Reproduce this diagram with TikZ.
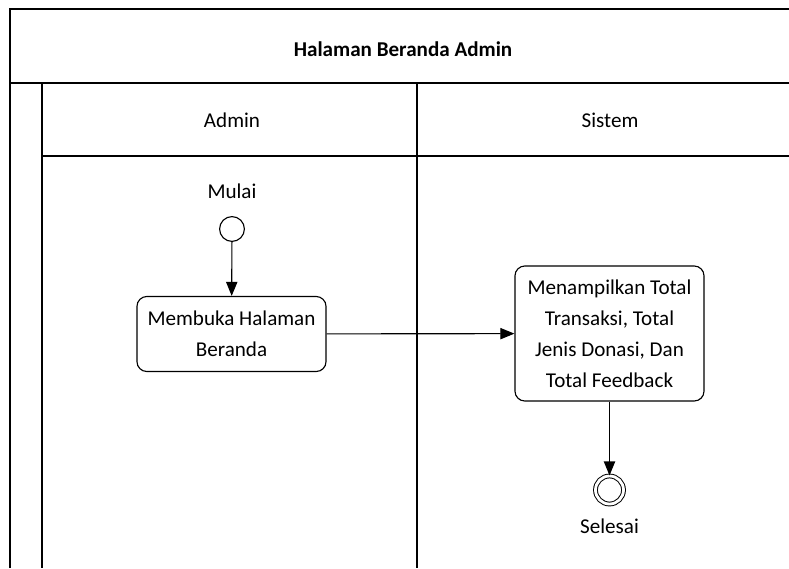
\documentclass[tikz,border=0pt]{standalone}
\usepackage{fontspec}
\setmainfont{Carlito}
\usetikzlibrary{arrows.meta}

\begin{document}
\begin{tikzpicture}[x=0.025cm,y=-0.025cm,
    lane/.style={line width=1.2pt},
    act/.style={draw,rounded corners=7pt,line width=0.8pt,align=center,
      minimum width=4.725cm,inner sep=0pt,
      font=\fontsize{15}{22}\selectfont},
    flow/.style={-{Triangle[length=10pt,width=8pt]},line width=0.8pt}]
  \useasboundingbox (0,0) rectangle (789,568);

  % swimlane frame
  \draw[lane] (10,568) -- (10,9) -- (789,9);
  \draw[lane] (10,83) -- (789,83);
  \draw[lane] (42,83) -- (42,568);
  \draw[lane] (42,156) -- (789,156);
  \draw[lane] (417,83) -- (417,568);

  \node[font=\fontsize{15}{18}\selectfont\bfseries] (judul) at (403,49) {Halaman Beranda Admin};
  \node[font=\fontsize{15}{18}\selectfont] (admin) at (232,120) {Admin};
  \node[font=\fontsize{15}{18}\selectfont] (sistem) at (610,120) {Sistem};

  % activities
  \node[draw,circle,minimum size=0.62cm,line width=0.8pt,
    label={[font=\fontsize{15}{18}\selectfont,label distance=9pt]above:Mulai}] (mulai) at (232,229) {};
  \node[act,minimum height=1.875cm] (buka) at (231.5,334) {Membuka Halaman\\Beranda};
  \node[act,minimum height=3.375cm] (tampil) at (609.5,333.5)
    {Menampilkan Total\\Transaksi, Total\\Jenis Donasi, Dan\\Total Feedback};
  \node[draw,circle,minimum size=0.7cm,line width=0.7pt,double,double distance=2pt,
    label={[font=\fontsize{15}{18}\selectfont,label distance=7pt]below:Selesai}] (selesai) at (609.5,490) {};

  \draw[flow] (mulai) -- (buka);
  \draw[flow] (buka) -- (tampil);
  \draw[flow] (tampil) -- (selesai);
\end{tikzpicture}
\end{document}
